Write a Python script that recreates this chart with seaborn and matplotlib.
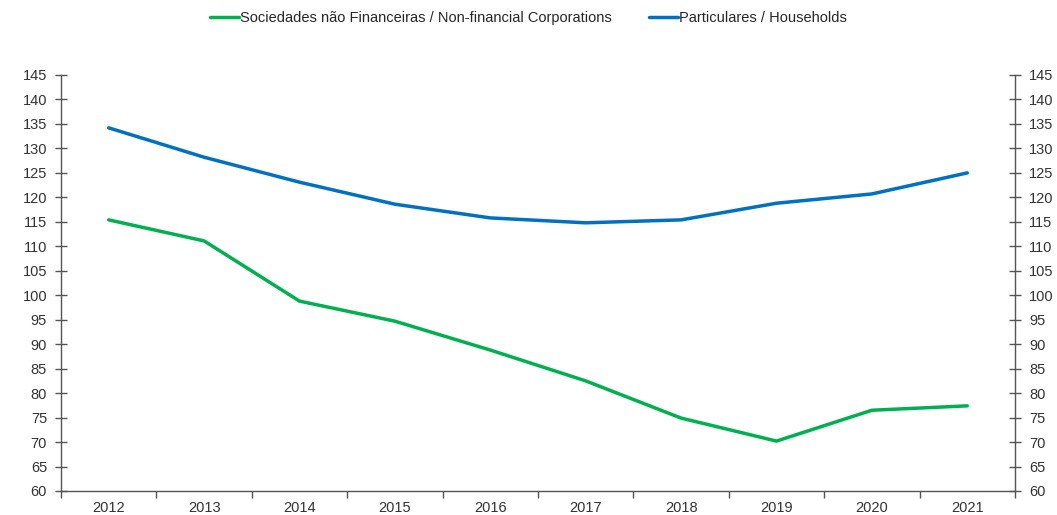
import matplotlib
matplotlib.use("Agg")
import matplotlib.pyplot as plt
import seaborn as sns
import pandas as pd
import numpy as np
from matplotlib.ticker import FixedLocator, MultipleLocator
from matplotlib.lines import Line2D

years = ["2012", "2013", "2014", "2015", "2016", "2017", "2018", "2019", "2020", "2021"]
corporations = [115.4, 111.1, 98.8, 94.7, 88.8, 82.5, 74.9, 70.2, 76.5, 77.4]
households = [134.2, 128.2, 123.1, 118.6, 115.8, 114.8, 115.4, 118.8, 120.7, 125.0]
series_names = ["Sociedades não Financeiras / Non-financial Corporations", "Particulares / Households"]
colors = ["#00B050", "#0070C0"]

sns.set_theme(style="white")
plt.rcParams['font.family'] = ['Liberation Sans', 'DejaVu Sans']

df = pd.DataFrame({
    "year": years * 2,
    "value": corporations + households,
    "series": [series_names[0]] * len(years) + [series_names[1]] * len(years),
})

fig = plt.figure(figsize=(10.57, 5.15), dpi=100)
ax = fig.add_axes([61/1057, 24/515, (1015-61)/1057, (491-75)/515])

sns.lineplot(data=df, x="year", y="value", hue="series", palette=colors,
             linewidth=2.5, ax=ax, legend=False, sort=False)

ax.set_xlim(-0.5, len(years) - 0.5)
ax.set_ylim(60, 145)
ax.set_xlabel("")
ax.set_ylabel("")
ax.yaxis.set_major_locator(MultipleLocator(5))
ax.xaxis.set_major_locator(FixedLocator(range(len(years))))
ax.set_xticklabels(years)
ax.xaxis.set_minor_locator(FixedLocator(np.arange(-0.5, len(years), 1.0)))
ax.tick_params(axis="x", which="major", length=0, labelsize=10.5, colors="#333333", pad=7)
ax.tick_params(axis="x", which="minor", direction="out", length=5, width=1, color="#555555", bottom=True)
ax.tick_params(axis="y", which="major", direction="inout", length=8, width=1, color="#555555",
               labelsize=10.5, labelcolor="#333333", left=True, pad=6)

for s in ["top", "right"]:
    ax.spines[s].set_visible(False)
for s in ["left", "bottom"]:
    ax.spines[s].set_color("#555555")
    ax.spines[s].set_linewidth(1)

ax2 = ax.twinx()
ax2.set_ylim(60, 145)
ax2.yaxis.set_major_locator(MultipleLocator(5))
ax2.tick_params(axis="y", which="major", direction="inout", length=8, width=1, color="#555555",
                labelsize=10.5, labelcolor="#333333", right=True, pad=6)
for s in ["top", "left", "bottom"]:
    ax2.spines[s].set_visible(False)
ax2.spines["right"].set_color("#555555")
ax2.spines["right"].set_linewidth(1)

handles = [Line2D([0], [0], color=c, linewidth=2.5) for c in colors]
fig.legend(handles, series_names, loc="center", bbox_to_anchor=(0.5, 1 - 18/515), ncol=2,
           frameon=False, fontsize=10.5, handlelength=2.0, handletextpad=0.1, columnspacing=2.5)

fig.savefig("out.png", dpi=100)
